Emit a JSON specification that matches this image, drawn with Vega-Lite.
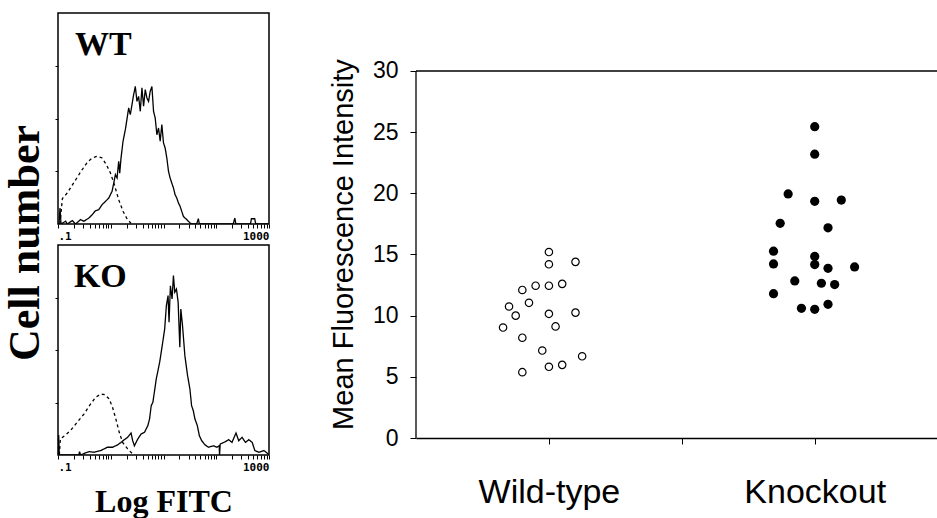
{
  "$schema": "https://vega.github.io/schema/vega-lite/v6.json",
  "background": "white",
  "padding": {"left": 3, "top": 12, "right": 0, "bottom": 0},
  "config": {"view": {"stroke": null}, "axis": {"grid": false}},
  "datasets": {
    "hist": [
      {"panel":"WT","series":"control","fitc":0.1091,"count":0},{"panel":"WT","series":"control","fitc":0.1208,"count":12.0},{"panel":"WT","series":"control","fitc":0.150,"count":14.7},{"panel":"WT","series":"control","fitc":0.2004,"count":19.7},{"panel":"WT","series":"control","fitc":0.2679,"count":24.6},{"panel":"WT","series":"control","fitc":0.3573,"count":29.2},{"panel":"WT","series":"control","fitc":0.4446,"count":31.3},{"panel":"WT","series":"control","fitc":0.5521,"count":32.1},{"panel":"WT","series":"control","fitc":0.6855,"count":31.3},{"panel":"WT","series":"control","fitc":0.8279,"count":28.1},{"panel":"WT","series":"control","fitc":0.9863,"count":24.2},{"panel":"WT","series":"control","fitc":1.172,"count":18.6},{"panel":"WT","series":"control","fitc":1.416,"count":11.5},{"panel":"WT","series":"control","fitc":1.710,"count":6.0},{"panel":"WT","series":"control","fitc":2.032,"count":2.5},{"panel":"WT","series":"control","fitc":2.421,"count":0.3},
      {"panel":"WT","series":"stained","fitc":0.1044,"count":0},{"panel":"WT","series":"stained","fitc":0.1091,"count":7.6},{"panel":"WT","series":"stained","fitc":0.1140,"count":0},{"panel":"WT","series":"stained","fitc":0.1396,"count":1.3},{"panel":"WT","series":"stained","fitc":0.1500,"count":0},{"panel":"WT","series":"stained","fitc":0.1864,"count":1.6},{"panel":"WT","series":"stained","fitc":0.2154,"count":0},{"panel":"WT","series":"stained","fitc":0.2677,"count":2.1},{"panel":"WT","series":"stained","fitc":0.3095,"count":1.3},{"panel":"WT","series":"stained","fitc":0.3845,"count":2.8},{"panel":"WT","series":"stained","fitc":0.4444,"count":4.4},{"panel":"WT","series":"stained","fitc":0.5136,"count":6.3},{"panel":"WT","series":"stained","fitc":0.5938,"count":6.8},{"panel":"WT","series":"stained","fitc":0.6863,"count":9.2},{"panel":"WT","series":"stained","fitc":0.7934,"count":10.7},{"panel":"WT","series":"stained","fitc":0.9169,"count":12.3},{"panel":"WT","series":"stained","fitc":1.060,"count":15.5},{"panel":"WT","series":"stained","fitc":1.139,"count":19.4},{"panel":"WT","series":"stained","fitc":1.225,"count":23.4},{"panel":"WT","series":"stained","fitc":1.317,"count":21.8},{"panel":"WT","series":"stained","fitc":1.416,"count":29.7},{"panel":"WT","series":"stained","fitc":1.479,"count":24.1},{"panel":"WT","series":"stained","fitc":1.567,"count":31.3},{"panel":"WT","series":"stained","fitc":1.709,"count":39.2},{"panel":"WT","series":"stained","fitc":1.891,"count":44.7},{"panel":"WT","series":"stained","fitc":2.033,"count":49.8},{"panel":"WT","series":"stained","fitc":2.186,"count":55.0},{"panel":"WT","series":"stained","fitc":2.350,"count":51.8},{"panel":"WT","series":"stained","fitc":2.527,"count":56.6},{"panel":"WT","series":"stained","fitc":2.716,"count":61.3},{"panel":"WT","series":"stained","fitc":2.920,"count":65.2},{"panel":"WT","series":"stained","fitc":3.140,"count":58.1},{"panel":"WT","series":"stained","fitc":3.376,"count":60.5},{"panel":"WT","series":"stained","fitc":3.628,"count":53.4},{"panel":"WT","series":"stained","fitc":3.901,"count":64.5},{"panel":"WT","series":"stained","fitc":4.194,"count":55.8},{"panel":"WT","series":"stained","fitc":4.509,"count":63.7},{"panel":"WT","series":"stained","fitc":4.849,"count":59.7},{"panel":"WT","series":"stained","fitc":5.212,"count":58.1},{"panel":"WT","series":"stained","fitc":5.603,"count":62.9},{"panel":"WT","series":"stained","fitc":6.025,"count":65.2},{"panel":"WT","series":"stained","fitc":6.476,"count":53.4},{"panel":"WT","series":"stained","fitc":6.963,"count":50.2},{"panel":"WT","series":"stained","fitc":7.484,"count":42.3},{"panel":"WT","series":"stained","fitc":8.047,"count":45.5},{"panel":"WT","series":"stained","fitc":8.651,"count":39.2},{"panel":"WT","series":"stained","fitc":9.303,"count":47.1},{"panel":"WT","series":"stained","fitc":10.0,"count":38.4},{"panel":"WT","series":"stained","fitc":10.75,"count":36.0},{"panel":"WT","series":"stained","fitc":11.56,"count":31.3},{"panel":"WT","series":"stained","fitc":12.43,"count":25.0},{"panel":"WT","series":"stained","fitc":13.36,"count":21.8},{"panel":"WT","series":"stained","fitc":14.36,"count":19.4},{"panel":"WT","series":"stained","fitc":15.44,"count":17.1},{"panel":"WT","series":"stained","fitc":16.60,"count":13.9},{"panel":"WT","series":"stained","fitc":17.85,"count":12.3},{"panel":"WT","series":"stained","fitc":19.19,"count":10.0},{"panel":"WT","series":"stained","fitc":20.63,"count":8.4},{"panel":"WT","series":"stained","fitc":22.18,"count":6.0},{"panel":"WT","series":"stained","fitc":23.85,"count":3.6},{"panel":"WT","series":"stained","fitc":25.63,"count":2.8},{"panel":"WT","series":"stained","fitc":27.56,"count":2.1},{"panel":"WT","series":"stained","fitc":31.86,"count":0.5},{"panel":"WT","series":"stained","fitc":34.24,"count":0},{"panel":"WT","series":"stained","fitc":42.55,"count":0},{"panel":"WT","series":"stained","fitc":45.77,"count":2.5},{"panel":"WT","series":"stained","fitc":47.78,"count":0},{"panel":"WT","series":"stained","fitc":209.4,"count":0},{"panel":"WT","series":"stained","fitc":225.0,"count":2.8},{"panel":"WT","series":"stained","fitc":235.0,"count":0},{"panel":"WT","series":"stained","fitc":444.4,"count":0},{"panel":"WT","series":"stained","fitc":464.2,"count":2.5},{"panel":"WT","series":"stained","fitc":536.6,"count":2.5},{"panel":"WT","series":"stained","fitc":560.3,"count":0},{"panel":"WT","series":"stained","fitc":971.4,"count":0},
      {"panel":"KO","series":"control","fitc":0.1060,"count":0},{"panel":"KO","series":"control","fitc":0.1108,"count":7.6},{"panel":"KO","series":"control","fitc":0.1381,"count":9.5},{"panel":"KO","series":"control","fitc":0.1722,"count":11.6},{"panel":"KO","series":"control","fitc":0.2310,"count":15.6},{"panel":"KO","series":"control","fitc":0.3099,"count":19.5},{"panel":"KO","series":"control","fitc":0.4156,"count":24.3},{"panel":"KO","series":"control","fitc":0.5183,"count":27.5},{"panel":"KO","series":"control","fitc":0.6458,"count":29.0},{"panel":"KO","series":"control","fitc":0.7706,"count":28.7},{"panel":"KO","series":"control","fitc":0.9326,"count":26.7},{"panel":"KO","series":"control","fitc":1.080,"count":22.7},{"panel":"KO","series":"control","fitc":1.251,"count":17.1},{"panel":"KO","series":"control","fitc":1.449,"count":10.8},{"panel":"KO","series":"control","fitc":1.679,"count":6.0},{"panel":"KO","series":"control","fitc":2.092,"count":2.9},{"panel":"KO","series":"control","fitc":2.608,"count":0.5},
      {"panel":"KO","series":"stained","fitc":0.1015,"count":0},{"panel":"KO","series":"stained","fitc":0.1030,"count":9.5},{"panel":"KO","series":"stained","fitc":0.1060,"count":0},{"panel":"KO","series":"stained","fitc":0.2486,"count":0},{"panel":"KO","series":"stained","fitc":0.2561,"count":1.6},{"panel":"KO","series":"stained","fitc":0.2676,"count":0},{"panel":"KO","series":"stained","fitc":0.3336,"count":1.0},{"panel":"KO","series":"stained","fitc":0.3862,"count":1.6},{"panel":"KO","series":"stained","fitc":0.4816,"count":1.3},{"panel":"KO","series":"stained","fitc":0.6458,"count":2.1},{"panel":"KO","series":"stained","fitc":0.8666,"count":3.7},{"panel":"KO","series":"stained","fitc":1.080,"count":3.7},{"panel":"KO","series":"stained","fitc":1.346,"count":4.8},{"panel":"KO","series":"stained","fitc":1.560,"count":6.0},{"panel":"KO","series":"stained","fitc":1.806,"count":7.3},{"panel":"KO","series":"stained","fitc":2.092,"count":8.4},{"panel":"KO","series":"stained","fitc":2.423,"count":10.5},{"panel":"KO","series":"stained","fitc":2.608,"count":6.8},{"panel":"KO","series":"stained","fitc":2.808,"count":4.4},{"panel":"KO","series":"stained","fitc":3.251,"count":7.6},{"panel":"KO","series":"stained","fitc":3.765,"count":10.0},{"panel":"KO","series":"stained","fitc":4.361,"count":10.8},{"panel":"KO","series":"stained","fitc":5.050,"count":14.0},{"panel":"KO","series":"stained","fitc":5.435,"count":17.1},{"panel":"KO","series":"stained","fitc":5.850,"count":23.5},{"panel":"KO","series":"stained","fitc":6.295,"count":25.1},{"panel":"KO","series":"stained","fitc":7.291,"count":36.2},{"panel":"KO","series":"stained","fitc":8.446,"count":44.1},{"panel":"KO","series":"stained","fitc":9.361,"count":51.3},{"panel":"KO","series":"stained","fitc":10.53,"count":60.0},{"panel":"KO","series":"stained","fitc":11.33,"count":71.1},{"panel":"KO","series":"stained","fitc":12.20,"count":75.9},{"panel":"KO","series":"stained","fitc":12.74,"count":63.2},{"panel":"KO","series":"stained","fitc":13.52,"count":80.6},{"panel":"KO","series":"stained","fitc":14.55,"count":74.3},{"panel":"KO","series":"stained","fitc":15.43,"count":85.4},{"panel":"KO","series":"stained","fitc":16.36,"count":77.5},{"panel":"KO","series":"stained","fitc":17.61,"count":79.0},{"panel":"KO","series":"stained","fitc":18.95,"count":72.7},{"panel":"KO","series":"stained","fitc":20.39,"count":51.3},{"panel":"KO","series":"stained","fitc":21.31,"count":69.5},{"panel":"KO","series":"stained","fitc":22.94,"count":61.6},{"panel":"KO","series":"stained","fitc":25.42,"count":47.3},{"panel":"KO","series":"stained","fitc":28.59,"count":37.8},{"panel":"KO","series":"stained","fitc":31.68,"count":31.4},{"panel":"KO","series":"stained","fitc":34.09,"count":23.5},{"panel":"KO","series":"stained","fitc":36.69,"count":21.1},{"panel":"KO","series":"stained","fitc":39.50,"count":17.1},{"panel":"KO","series":"stained","fitc":43.78,"count":14.0},{"panel":"KO","series":"stained","fitc":47.79,"count":9.2},{"panel":"KO","series":"stained","fitc":52.99,"count":6.8},{"panel":"KO","series":"stained","fitc":61.36,"count":4.8},{"panel":"KO","series":"stained","fitc":71.07,"count":3.7},{"panel":"KO","series":"stained","fitc":88.60,"count":4.4},{"panel":"KO","series":"stained","fitc":102.6,"count":3.7},{"panel":"KO","series":"stained","fitc":113.7,"count":4.4},{"panel":"KO","series":"stained","fitc":115.4,"count":0},{"panel":"KO","series":"stained","fitc":118.9,"count":5.2},{"panel":"KO","series":"stained","fitc":148.2,"count":6.3},{"panel":"KO","series":"stained","fitc":171.6,"count":7.3},{"panel":"KO","series":"stained","fitc":198.7,"count":6.0},{"panel":"KO","series":"stained","fitc":237.0,"count":10.5},{"panel":"KO","series":"stained","fitc":266.6,"count":6.8},{"panel":"KO","series":"stained","fitc":308.8,"count":8.4},{"panel":"KO","series":"stained","fitc":357.6,"count":6.0},{"panel":"KO","series":"stained","fitc":414.1,"count":7.3},{"panel":"KO","series":"stained","fitc":479.7,"count":6.0},{"panel":"KO","series":"stained","fitc":539.8,"count":2.1},{"panel":"KO","series":"stained","fitc":643.8,"count":1.3},{"panel":"KO","series":"stained","fitc":802.1,"count":2.1},{"panel":"KO","series":"stained","fitc":970.9,"count":0.5}
    ],
    "mfi": [
      {"group":"Wild-type","x":1.0,"mfi":15.2},{"group":"Wild-type","x":1.0,"mfi":14.2},{"group":"Wild-type","x":1.2,"mfi":14.4},{"group":"Wild-type","x":0.8,"mfi":12.1},{"group":"Wild-type","x":0.9,"mfi":12.45},{"group":"Wild-type","x":1.0,"mfi":12.45},{"group":"Wild-type","x":1.1,"mfi":12.6},{"group":"Wild-type","x":0.85,"mfi":11.05},{"group":"Wild-type","x":0.7,"mfi":10.75},{"group":"Wild-type","x":0.75,"mfi":10.0},{"group":"Wild-type","x":1.0,"mfi":10.15},{"group":"Wild-type","x":1.2,"mfi":10.25},{"group":"Wild-type","x":0.655,"mfi":9.03},{"group":"Wild-type","x":1.05,"mfi":9.12},{"group":"Wild-type","x":0.8,"mfi":8.2},{"group":"Wild-type","x":0.95,"mfi":7.15},{"group":"Wild-type","x":1.25,"mfi":6.68},{"group":"Wild-type","x":1.1,"mfi":5.98},{"group":"Wild-type","x":1.0,"mfi":5.82},{"group":"Wild-type","x":0.8,"mfi":5.38},
      {"group":"Knockout","x":3.0,"mfi":25.45},{"group":"Knockout","x":3.0,"mfi":23.2},{"group":"Knockout","x":2.8,"mfi":19.95},{"group":"Knockout","x":3.0,"mfi":19.35},{"group":"Knockout","x":3.2,"mfi":19.45},{"group":"Knockout","x":2.74,"mfi":17.55},{"group":"Knockout","x":3.1,"mfi":17.18},{"group":"Knockout","x":2.69,"mfi":15.27},{"group":"Knockout","x":3.0,"mfi":14.84},{"group":"Knockout","x":2.69,"mfi":14.23},{"group":"Knockout","x":3.0,"mfi":14.18},{"group":"Knockout","x":3.1,"mfi":13.87},{"group":"Knockout","x":3.3,"mfi":13.98},{"group":"Knockout","x":2.85,"mfi":12.84},{"group":"Knockout","x":3.05,"mfi":12.65},{"group":"Knockout","x":3.15,"mfi":12.54},{"group":"Knockout","x":2.69,"mfi":11.8},{"group":"Knockout","x":2.9,"mfi":10.6},{"group":"Knockout","x":3.0,"mfi":10.52},{"group":"Knockout","x":3.1,"mfi":10.93}
    ]
  },
  "spacing": 58,
  "hconcat": [
    {
      "title": {"text": "Cell number", "orient": "left", "anchor": "middle", "font": "Liberation Serif", "fontSize": 44, "fontWeight": "bold", "color": "black", "offset": 6, "dx": 22},
      "spacing": 2,
      "vconcat": [
        {
          "width": 211, "height": 211,
          "view": {"stroke": "black", "strokeWidth": 1.5},
          "layer": [
            {
              "data": {"name": "hist"},
              "transform": [{"filter": "datum.panel == 'WT'"}],
              "mark": {"type": "line", "color": "black", "strokeWidth": 1.3, "clip": true},
              "encoding": {
                "x": {"field": "fitc", "type": "quantitative", "scale": {"type": "log", "domain": [0.1, 1000]},
                  "axis": {"values": [0.1,0.2,0.3,0.4,0.5,0.6,0.7,0.8,0.9,1,2,3,4,5,6,7,8,9,10,20,30,40,50,60,70,80,90,100,200,300,400,500,600,700,800,900,1000],
                    "labelExpr": "datum.value < 0.15 ? '.1' : (datum.value > 900 ? '1000' : '')",
                    "labelFlush": true, "labelOverlap": false, "labelFont": "DejaVu Sans Mono", "labelFontWeight": "bold", "labelFontSize": 11, "labelColor": "black", "labelPadding": 2,
                    "tickSize": 4, "tickColor": "black", "domain": false, "title": null}},
                "y": {"field": "count", "type": "quantitative", "scale": {"domain": [0, 100]},
                  "axis": {"values": [25, 50, 75], "labels": false, "tickSize": 3, "tickColor": "black", "domain": false, "title": null}},
                "strokeDash": {"field": "series", "type": "nominal", "scale": {"domain": ["control", "stained"], "range": [[3, 3], [1, 0]]}, "legend": null}
              }
            },
            {
              "data": {"values": [{"label": "WT"}]},
              "mark": {"type": "text", "align": "left", "baseline": "middle", "font": "Liberation Serif", "fontWeight": "bold", "fontSize": 34, "color": "black"},
              "encoding": {"x": {"datum": 0.21}, "y": {"datum": 85}, "text": {"field": "label"}}
            }
          ]
        },
        {
          "width": 211, "height": 210,
          "view": {"stroke": "black", "strokeWidth": 1.5},
          "layer": [
            {
              "data": {"name": "hist"},
              "transform": [{"filter": "datum.panel == 'KO'"}],
              "mark": {"type": "line", "color": "black", "strokeWidth": 1.3, "clip": true},
              "encoding": {
                "x": {"field": "fitc", "type": "quantitative", "scale": {"type": "log", "domain": [0.1, 1000]},
                  "axis": {"values": [0.1,0.2,0.3,0.4,0.5,0.6,0.7,0.8,0.9,1,2,3,4,5,6,7,8,9,10,20,30,40,50,60,70,80,90,100,200,300,400,500,600,700,800,900,1000],
                    "labelExpr": "datum.value < 0.15 ? '.1' : (datum.value > 900 ? '1000' : '')",
                    "labelFlush": true, "labelOverlap": false, "labelFont": "DejaVu Sans Mono", "labelFontWeight": "bold", "labelFontSize": 11, "labelColor": "black", "labelPadding": 2,
                    "tickSize": 4, "tickColor": "black", "domain": false,
                    "title": "Log FITC", "titleFont": "Liberation Serif", "titleFontSize": 32, "titleFontWeight": "bold", "titleColor": "black", "titlePadding": 14}},
                "y": {"field": "count", "type": "quantitative", "scale": {"domain": [0, 100]},
                  "axis": {"values": [25, 50, 75], "labels": false, "tickSize": 3, "tickColor": "black", "domain": false, "title": null}},
                "strokeDash": {"field": "series", "type": "nominal", "scale": {"domain": ["control", "stained"], "range": [[3, 3], [1, 0]]}, "legend": null}
              }
            },
            {
              "data": {"values": [{"label": "KO"}]},
              "mark": {"type": "text", "align": "left", "baseline": "middle", "font": "Liberation Serif", "fontWeight": "bold", "fontSize": 34, "color": "black"},
              "encoding": {"x": {"datum": 0.2}, "y": {"datum": 85}, "text": {"field": "label"}}
            }
          ]
        }
      ]
    },
    {
      "width": 521, "height": 425,
      "layer": [
        {
          "data": {"values": [{}]},
          "mark": {"type": "rule", "color": "black", "strokeWidth": 1.3},
          "encoding": {"y": {"datum": 30, "type": "quantitative", "scale": {"domain": [0, 34.74], "nice": false}}}
        },
        {
          "data": {"values": [{}]},
          "mark": {"type": "rule", "color": "black", "strokeWidth": 1.3},
          "encoding": {"x": {"datum": 0, "type": "quantitative"}, "y": {"datum": 0, "type": "quantitative"}, "y2": {"datum": 30}}
        },
        {
          "data": {"name": "mfi"},
          "transform": [{"filter": "datum.group == 'Wild-type'"}],
          "mark": {"type": "point", "shape": "circle", "filled": false, "stroke": "black", "strokeWidth": 1.2, "size": 55, "opacity": 1},
          "encoding": {
            "x": {"field": "x", "type": "quantitative", "scale": {"domain": [0, 3.92], "nice": false},
              "axis": {"values": [1, 2, 3], "labelExpr": "datum.value == 1 ? 'Wild-type' : (datum.value == 3 ? 'Knockout' : '')",
                "labelFont": "Liberation Sans", "labelFontSize": 34, "labelColor": "black", "labelPadding": 31, "labelFlush": false, "labelOverlap": false,
                "tickSize": 6, "tickColor": "black", "domainColor": "black", "domainWidth": 1.3, "title": null}},
            "y": {"field": "mfi", "type": "quantitative", "scale": {"domain": [0, 34.74], "nice": false},
              "axis": {"values": [0, 5, 10, 15, 20, 25, 30], "labelFont": "Liberation Sans", "labelFontSize": 23, "labelColor": "black", "labelPadding": 12, "labelFlush": false,
                "tickSize": 6, "tickColor": "black", "domain": false,
                "title": "Mean Fluorescence Intensity", "titleFont": "Liberation Sans", "titleFontSize": 29, "titleFontWeight": "normal", "titleColor": "black", "titlePadding": 14, "titleY": 231}}
          }
        },
        {
          "data": {"name": "mfi"},
          "transform": [{"filter": "datum.group == 'Knockout'"}],
          "mark": {"type": "point", "shape": "circle", "filled": true, "color": "black", "size": 85, "opacity": 1},
          "encoding": {
            "x": {"field": "x", "type": "quantitative"},
            "y": {"field": "mfi", "type": "quantitative"}
          }
        }
      ]
    }
  ]
}
